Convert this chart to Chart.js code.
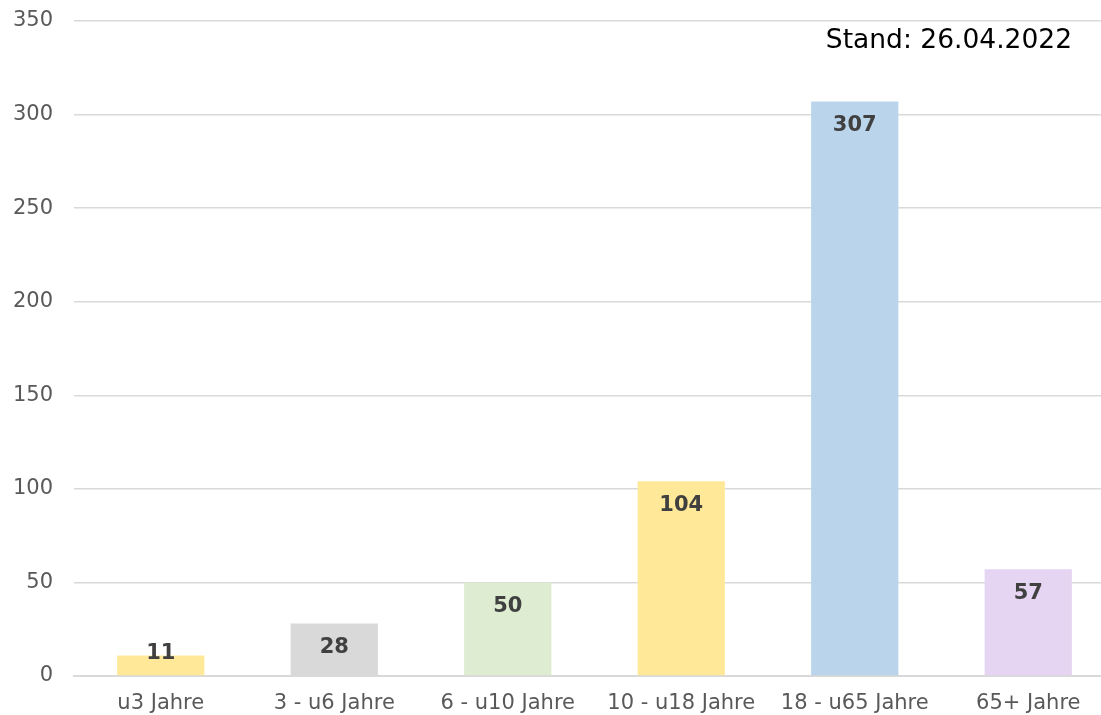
<!DOCTYPE html>
<html>
<head>
<meta charset="utf-8">
<script src="https://cdn.jsdelivr.net/npm/chart.js@4.4.1/dist/chart.umd.min.js"></script>
<style>
  html, body { margin:0; padding:0; background:#fff; overflow:hidden; }
  #wrap { width:1115px; height:715px; position:relative; }
</style>
</head>
<body>
<div id="wrap"><canvas id="grafico"></canvas></div>
<script>
// Daten
const kategorien = ['u3 Jahre', '3 - u6 Jahre', '6 - u10 Jahre', '10 - u18 Jahre', '18 - u65 Jahre', '65+ Jahre'];
const anzahl = [11, 28, 50, 104, 307, 57];
const farben = ['#FFE999', '#D9D9D9', '#DEECD1', '#FFE999', '#BAD5EB', '#E5D5F2'];
const standText = 'Stand: 26.04.2022';

const schrift = '"DejaVu Sans", Verdana, sans-serif';

// Werte im Balken oben
const wertePlugin = {
  id: 'werte',
  afterDatasetsDraw(chart){
    const ctx = chart.ctx;
    const meta = chart.getDatasetMeta(0);
    const basis = chart.scales.y.getPixelForValue(0);
    ctx.save();
    ctx.font = 'bold 21px ' + schrift;
    ctx.fillStyle = '#404040';
    ctx.textAlign = 'center';
    ctx.textBaseline = 'middle';
    meta.data.forEach((bar, i) => {
      const y = Math.min(bar.y + 24, basis - 22);
      ctx.fillText(String(anzahl[i]), bar.x, y);
    });
    ctx.restore();
  }
};

// Stand-Angabe oben rechts
const standPlugin = {
  id: 'stand',
  afterDraw(chart){
    const ctx = chart.ctx;
    ctx.save();
    ctx.font = '26.5px ' + schrift;
    ctx.fillStyle = '#000';
    ctx.textAlign = 'right';
    ctx.textBaseline = 'middle';
    ctx.fillText(standText, 1072, 41);
    ctx.restore();
  }
};

new Chart(document.getElementById('grafico'), {
  type: 'bar',
  data: {
    labels: kategorien,
    datasets: [{ data: anzahl, backgroundColor: farben, borderWidth: 0, categoryPercentage: 1, barPercentage: 0.503 }]
  },
  options: {
    responsive: true,
    maintainAspectRatio: false,
    animation: false,
    layout: { padding: { top: 21, right: 0, left: 0, bottom: 0 } },
    plugins: { legend: { display: false }, tooltip: { enabled: false } },
    scales: {
      x: {
        grid: { display: false, drawTicks: false },
        border: { display: true, color: '#D9D9D9', width: 2 },
        ticks: { color: '#595959', font: { family: schrift, size: 21 }, padding: 15, maxRotation: 0, autoSkip: false },
        afterFit(scale){ scale.height = 39; scale.paddingLeft = 0; scale.paddingRight = 0; }
      },
      y: {
        min: 0, max: 350,
        grid: { color: '#D9D9D9', lineWidth: 1.5, drawTicks: false },
        border: { display: false },
        ticks: { stepSize: 50, color: '#595959', font: { family: schrift, size: 21 }, padding: 21 },
        afterFit(scale){ scale.width = 74; scale.paddingTop = 0; scale.paddingBottom = 0; }
      }
    }
  },
  plugins: [wertePlugin, standPlugin]
});
</script>
</body>
</html>
